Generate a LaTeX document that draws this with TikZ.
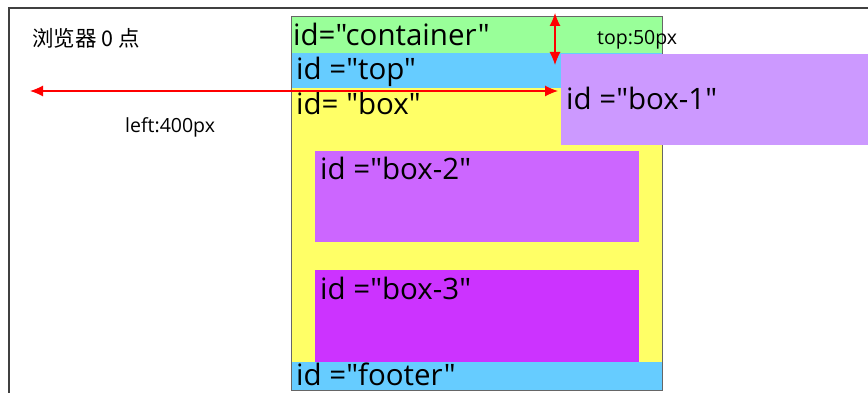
\documentclass[tikz,border=0pt]{standalone}
\usepackage{fontspec}
\setmainfont{Open Sans}[Ligatures=TeXOff]
\newfontfamily\cjk{Noto Sans CJK SC}
\usepackage{tikz}
\usetikzlibrary{arrows.meta}

\definecolor{greenarea}{HTML}{99FF99}
\definecolor{bluearea}{HTML}{66CCFF}
\definecolor{yellowarea}{HTML}{FFFF66}
\definecolor{violetone}{HTML}{CC99FF}
\definecolor{violettwo}{HTML}{CC66FF}
\definecolor{violetthree}{HTML}{CC33FF}

\begin{document}
\begin{tikzpicture}[x=1pt,y=-1pt]
  \tikzstyle{area}=[rectangle,anchor=north west,inner sep=0pt,outer sep=0pt]
  \tikzstyle{idtext}=[anchor=base west,inner sep=0pt,font=\fontsize{29.5}{34}\selectfont]
  \tikzstyle{note}=[inner sep=0pt,font=\fontsize{19.5}{23}\selectfont]
  \tikzstyle{measure}=[red,line width=1.1pt,{Latex[length=13pt,width=11pt]}-{Latex[length=13pt,width=11pt]}]
  \useasboundingbox (0,0) rectangle (868,393);

  % browser window
  \draw[black!75,line width=1.5pt] (9,393) -- (9,8) -- (868,8);
  \node[note,anchor=base west] (origin) at (32,47) {\cjk\fontsize{21.5}{25}\selectfont 浏览器 0 点};

  % container and its parts
  \node[area,fill=greenarea,minimum width=371pt,minimum height=37pt] (container) at (291,16) {};
  \node[area,fill=bluearea,minimum width=371pt,minimum height=35pt] (top) at (291,53) {};
  \node[area,fill=yellowarea,minimum width=371pt,minimum height=274pt] (box) at (291,88) {};
  \node[area,fill=violettwo,minimum width=324pt,minimum height=91pt] (box2) at (315,151) {};
  \node[area,fill=violetthree,minimum width=324pt,minimum height=92pt] (box3) at (315,270) {};
  \node[area,fill=bluearea,minimum width=371pt,minimum height=28pt] (footer) at (291,362) {};
  \draw[black!60,line width=0.8pt] (container.north west) rectangle (footer.south east);
  \node[area,fill=violetone,minimum width=307pt,minimum height=91pt] (box1) at (561,54) {};

  \node[idtext] (t-container) at (293,46) {id="container"};
  \node[idtext] (t-top) at (296,80) {id ="top"};
  \node[idtext] (t-box) at (296,115) {id= "box"};
  \node[idtext] (t-box1) at (566,110) {id ="box-1"};
  \node[idtext] (t-box2) at (320,180) {id ="box-2"};
  \node[idtext] (t-box3) at (320,299) {id ="box-3"};
  \node[idtext] (t-footer) at (296,385) {id ="footer"};

  % offsets
  \coordinate (left-a) at (30,91);
  \coordinate (left-b) at (558,91);
  \coordinate (top-a) at (555,13);
  \coordinate (top-b) at (555,65);
  \draw[measure] (left-a) -- (left-b);
  \draw[measure] (top-a) -- (top-b);
  \node[note,anchor=base west] (leftlabel) at (125,133) {left:400px};
  \node[note,anchor=base west] (toplabel) at (597,45) {top:50px};
\end{tikzpicture}
\end{document}
